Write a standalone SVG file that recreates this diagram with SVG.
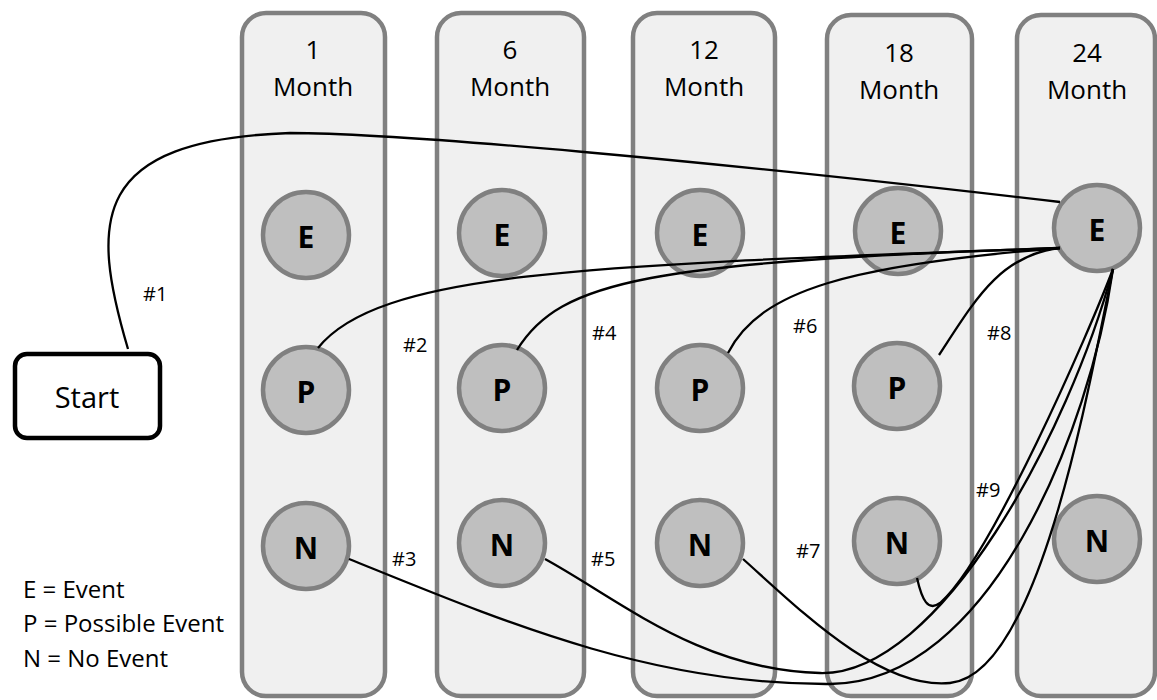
<svg xmlns="http://www.w3.org/2000/svg" width="1157" height="700" viewBox="0 0 1157 700">
<style>
.col{fill:#f0f0f0;stroke:#808080;stroke-width:4.5}
.nd{fill:#bfbfbf;stroke:#808080;stroke-width:4.5}
.nl{font-family:"Open Sans","Liberation Sans",sans-serif;font-weight:bold;font-size:30px;fill:#000;text-anchor:middle}
.hd{font-family:"Open Sans","Liberation Sans",sans-serif;font-size:26px;fill:#000;text-anchor:middle}
.lb{font-family:"Open Sans","Liberation Sans",sans-serif;font-size:20px;fill:#000}
.lg{font-family:"Open Sans","Liberation Sans",sans-serif;font-size:24px;fill:#000}
.cn{fill:none;stroke:#000;stroke-width:2.3}
</style>
<rect width="1157" height="700" fill="#fff"/>
<g id="col1"><rect class="col" x="242" y="13" width="143" height="683" rx="24"/><text class="hd" x="313" y="59">1</text><text class="hd" x="313" y="96">Month</text></g>
<g id="col6"><rect class="col" x="437" y="13" width="147" height="683" rx="24"/><text class="hd" x="510" y="59">6</text><text class="hd" x="510" y="96">Month</text></g>
<g id="col12"><rect class="col" x="633" y="13" width="142" height="683" rx="24"/><text class="hd" x="704" y="59">12</text><text class="hd" x="704" y="96">Month</text></g>
<g id="col18"><rect class="col" x="827" y="15" width="145" height="681" rx="24"/><text class="hd" x="899" y="62">18</text><text class="hd" x="899" y="99">Month</text></g>
<g id="col24"><rect class="col" x="1017" y="15" width="138" height="681" rx="24"/><text class="hd" x="1087" y="62">24</text><text class="hd" x="1087" y="99">Month</text></g>

<g id="e1"><circle class="nd" cx="306" cy="235" r="43"/><text class="nl" x="306" y="248">E</text></g>
<g id="p1"><circle class="nd" cx="306" cy="390" r="43"/><text class="nl" x="306" y="403">P</text></g>
<g id="n1"><circle class="nd" cx="306" cy="546" r="43"/><text class="nl" x="306" y="559">N</text></g>
<g id="e6"><circle class="nd" cx="502" cy="233" r="43"/><text class="nl" x="502" y="246">E</text></g>
<g id="p6"><circle class="nd" cx="502" cy="388" r="43"/><text class="nl" x="502" y="401">P</text></g>
<g id="n6"><circle class="nd" cx="502" cy="543" r="43"/><text class="nl" x="502" y="556">N</text></g>
<g id="e12"><circle class="nd" cx="700" cy="233" r="43"/><text class="nl" x="700" y="246">E</text></g>
<g id="p12"><circle class="nd" cx="700" cy="388" r="43"/><text class="nl" x="700" y="401">P</text></g>
<g id="n12"><circle class="nd" cx="700" cy="543" r="43"/><text class="nl" x="700" y="556">N</text></g>
<g id="e18"><circle class="nd" cx="898" cy="231" r="43"/><text class="nl" x="898" y="244">E</text></g>
<g id="p18"><circle class="nd" cx="897" cy="386" r="43"/><text class="nl" x="897" y="399">P</text></g>
<g id="n18"><circle class="nd" cx="897" cy="541" r="43"/><text class="nl" x="897" y="554">N</text></g>
<g id="e24"><circle class="nd" cx="1097" cy="228" r="43"/><text class="nl" x="1097" y="241">E</text></g>
<g id="n24"><circle class="nd" cx="1097" cy="539" r="43"/><text class="nl" x="1097" y="552">N</text></g>

<g id="start"><rect x="15" y="354" width="145" height="84" rx="12" fill="#fff" stroke="#000" stroke-width="4.5"/><text x="87" y="408" font-family="Open Sans, Liberation Sans, sans-serif" font-size="29" text-anchor="middle">Start</text></g>

<g id="connectors">
<path class="cn" d="M128,349 C90,220 90,140 290,133 C400,133 700,160 1060,202"/>
<path class="cn" d="M318,348 C380,270 600,265 1060,248"/>
<path class="cn" d="M517,350 C560,280 650,262 1060,248"/>
<path class="cn" d="M728,353 C760,290 850,265 1060,248"/>
<path class="cn" d="M939,355 C975,300 1000,255 1060,248"/>
<path class="cn" d="M349,559 C500,620 650,685 830,684 C990,683 1090,430 1113,269"/>
<path class="cn" d="M545,559 C620,600 700,670 820,673 C940,676 1070,430 1113,269"/>
<path class="cn" d="M743,559 C800,610 880,690 950,683 C1040,675 1090,380 1113,269"/>
<path class="cn" d="M917,578 C922,600 928,612 940,603 C990,560 1090,330 1113,269"/>
</g>

<g id="labels">
<text class="lb" x="143" y="301">#1</text>
<text class="lb" x="403" y="352">#2</text>
<text class="lb" x="392" y="566">#3</text>
<text class="lb" x="592" y="340">#4</text>
<text class="lb" x="591" y="566">#5</text>
<text class="lb" x="793" y="333">#6</text>
<text class="lb" x="796" y="558">#7</text>
<text class="lb" x="987" y="340">#8</text>
<text class="lb" x="976" y="497">#9</text>
</g>

<g id="legend">
<text class="lg" x="23" y="598">E = Event</text>
<text class="lg" x="23" y="632">P = Possible Event</text>
<text class="lg" x="23" y="667">N = No Event</text>
</g>
</svg>
